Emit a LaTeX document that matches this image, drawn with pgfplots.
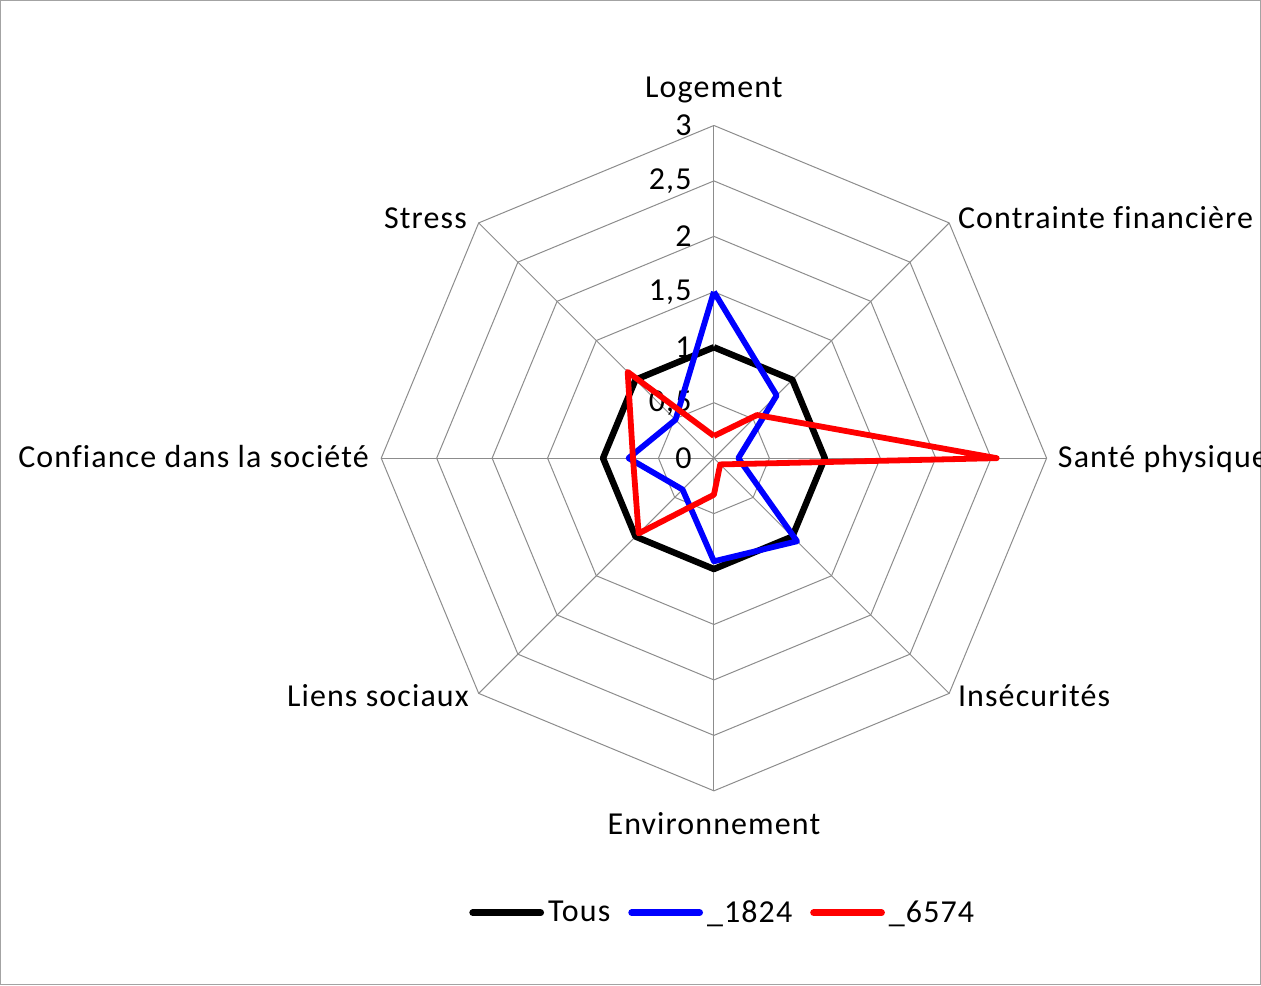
\documentclass[border=0pt]{standalone}
\usepackage{fontspec}
\setmainfont{Carlito}[LetterSpace=3.5, Ligatures=NoCommon]
\usepackage{pgfplots}
\pgfplotsset{compat=1.18}
\definecolor{gridgray}{HTML}{8C8C8C}
\definecolor{xlblue}{HTML}{0000FF}
\definecolor{xlred}{HTML}{FF0000}
\begin{document}
\begin{tikzpicture}
\begin{axis}[
  scale only axis, width=630.5pt, height=492.5pt,
  xmin=-6.4324, xmax=4.9279, ymin=-4.7477, ymax=4.1261,
  hide axis, clip=false,
  legend columns=3,
  legend style={draw=none, fill=none, at={(0.574,0.0731)}, anchor=center,
    font=\fontsize{16}{19}\selectfont, inner sep=0pt,
    /tikz/every even column/.append style={column sep=7pt}},
  legend image code/.code={\draw[#1, line width=3.4pt, line cap=round] (0pt,0pt) -- (34pt,0pt);},
]
% frame
\draw[gridgray!80, line width=0.6pt] (rel axis cs:0,0) rectangle (rel axis cs:1,1);
% grid octagons
\addplot[gridgray, line width=0.5pt, data cs=polar, forget plot] coordinates {(90,0.5) (45,0.5) (0,0.5) (-45,0.5) (-90,0.5) (-135,0.5) (180,0.5) (135,0.5) (90,0.5)};
\addplot[gridgray, line width=0.5pt, data cs=polar, forget plot] coordinates {(90,1) (45,1) (0,1) (-45,1) (-90,1) (-135,1) (180,1) (135,1) (90,1)};
\addplot[gridgray, line width=0.5pt, data cs=polar, forget plot] coordinates {(90,1.5) (45,1.5) (0,1.5) (-45,1.5) (-90,1.5) (-135,1.5) (180,1.5) (135,1.5) (90,1.5)};
\addplot[gridgray, line width=0.5pt, data cs=polar, forget plot] coordinates {(90,2) (45,2) (0,2) (-45,2) (-90,2) (-135,2) (180,2) (135,2) (90,2)};
\addplot[gridgray, line width=0.5pt, data cs=polar, forget plot] coordinates {(90,2.5) (45,2.5) (0,2.5) (-45,2.5) (-90,2.5) (-135,2.5) (180,2.5) (135,2.5) (90,2.5)};
\addplot[gridgray, line width=0.5pt, data cs=polar, forget plot] coordinates {(90,3) (45,3) (0,3) (-45,3) (-90,3) (-135,3) (180,3) (135,3) (90,3)};
% spokes
\addplot[gridgray, line width=0.5pt, data cs=polar, forget plot] coordinates {(90,3) (-90,3)};
\addplot[gridgray, line width=0.5pt, data cs=polar, forget plot] coordinates {(45,3) (-135,3)};
\addplot[gridgray, line width=0.5pt, data cs=polar, forget plot] coordinates {(0,3) (180,3)};
\addplot[gridgray, line width=0.5pt, data cs=polar, forget plot] coordinates {(-45,3) (135,3)};
% tick labels
\begin{scope}[every node/.style={font=\fontsize{16}{19}\selectfont, inner sep=0pt, anchor=east}]
\node at (axis cs:-0.198,0) {0};
\node at (axis cs:-0.198,0.5) {0,5};
\node at (axis cs:-0.198,1) {1};
\node at (axis cs:-0.198,1.5) {1,5};
\node at (axis cs:-0.198,2) {2};
\node at (axis cs:-0.198,2.5) {2,5};
\node at (axis cs:-0.198,3) {3};
\end{scope}
% category labels
\begin{scope}[every node/.style={font=\fontsize{16}{19}\selectfont, inner sep=0pt}]
\node[anchor=base] at (axis cs:0,3.252) {Logement};
\node[anchor=base west] at (axis cs:2.198,2.072) {Contrainte financière};
\node[anchor=base west, overlay] at (axis cs:3.099,-0.081) {Santé physique};
\node[anchor=base west] at (axis cs:2.198,-2.243) {Insécurités};
\node[anchor=base] at (axis cs:0,-3.396) {Environnement};
\node[anchor=base east] at (axis cs:-2.207,-2.243) {Liens sociaux};
\node[anchor=base east] at (axis cs:-3.108,-0.081) {Confiance dans la société};
\node[anchor=base east] at (axis cs:-2.225,2.072) {Stress};
\end{scope}
% data
\addplot[black, line width=3.2pt, line join=round, data cs=polar] coordinates {(90,1) (45,1) (0,1) (-45,1) (-90,1) (-135,1) (180,1) (135,1) (90,1)};
\addlegendentry{Tous}
\addplot[xlblue, line width=2.9pt, line join=round, data cs=polar] coordinates {(90,1.5) (45,0.8) (0,0.22) (-45,1.06) (-90,0.93) (-135,0.4) (180,0.77) (135,0.49) (90,1.5)};
\addlegendentry{\_1824}
\addplot[xlred, line width=2.9pt, line join=round, data cs=polar] coordinates {(90,0.2) (45,0.55) (0,2.55) (-45,0.08) (-90,0.33) (-135,0.96) (180,0.73) (135,1.1) (90,0.2)};
\addlegendentry{\_6574}
\end{axis}
\end{tikzpicture}
\end{document}
